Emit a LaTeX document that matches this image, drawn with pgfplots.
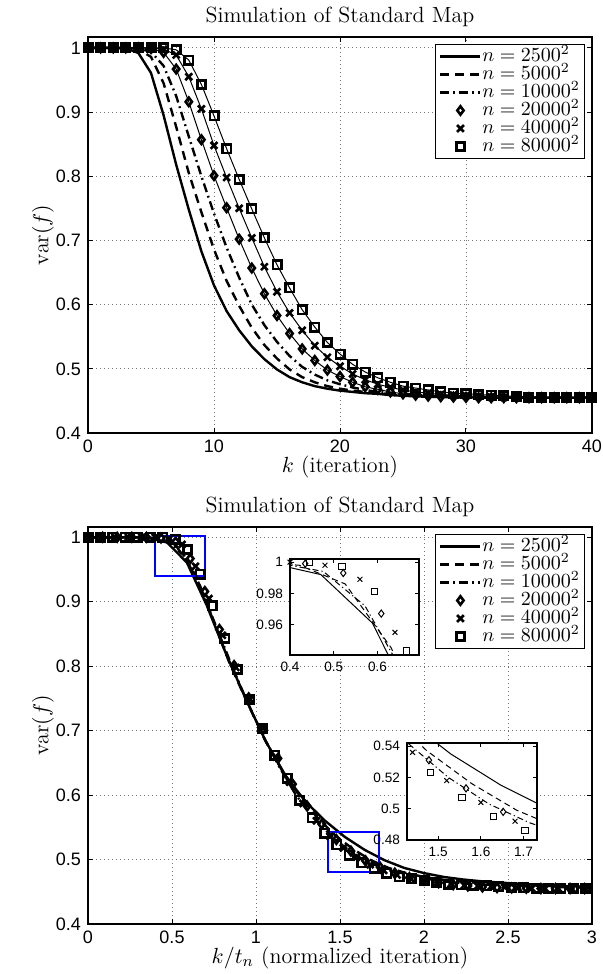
\documentclass[border=0pt]{standalone}
\usepackage{fontspec}
\usepackage{pgfplots}
\usepackage{pgfplotstable}
\pgfplotsset{compat=1.18}
\newfontfamily\arial{Liberation Sans}

% var(f) against iteration k, one column per grid size n
\pgfplotstableread{
k  a      b      c      d      e      f
0  1      1      1      1      1      1
1  1      1      1      1      1      1
2  1      1      1      1      1      1
3  0.9995 1      1      1      1      1
4  0.992  0.998  0.999  1      1      1
5  0.961  0.986  0.994  0.999  1      1
6  0.895  0.945  0.972  0.993  0.998  1
7  0.818  0.877  0.925  0.967  0.989  0.997
8  0.748  0.805  0.862  0.916  0.955  0.981
9  0.683  0.744  0.800  0.857  0.905  0.943
10 0.630  0.686  0.742  0.801  0.848  0.894
11 0.590  0.637  0.689  0.751  0.798  0.843
12 0.560  0.598  0.642  0.702  0.750  0.795
13 0.535  0.564  0.600  0.657  0.704  0.749
14 0.515  0.537  0.568  0.617  0.659  0.704
15 0.499  0.516  0.542  0.583  0.620  0.662
16 0.487  0.499  0.520  0.555  0.587  0.626
17 0.479  0.487  0.503  0.531  0.560  0.592
18 0.473  0.479  0.491  0.513  0.536  0.565
19 0.469  0.473  0.482  0.498  0.518  0.541
20 0.466  0.469  0.476  0.488  0.504  0.523
21 0.464  0.466  0.471  0.479  0.492  0.507
22 0.462  0.464  0.467  0.472  0.483  0.495
23 0.461  0.462  0.464  0.468  0.476  0.486
24 0.459  0.461  0.462  0.464  0.471  0.479
25 0.458  0.460  0.461  0.461  0.467  0.473
26 0.457  0.459  0.460  0.459  0.464  0.470
27 0.4565 0.458  0.459  0.4575 0.462  0.467
28 0.456  0.457  0.458  0.4565 0.460  0.464
29 0.4557 0.4565 0.4575 0.456  0.459  0.462
30 0.4555 0.456  0.457  0.4555 0.458  0.461
31 0.455  0.4555 0.4565 0.455  0.457  0.460
32 0.455  0.455  0.456  0.455  0.456  0.459
33 0.455  0.455  0.4555 0.455  0.4555 0.458
34 0.455  0.455  0.455  0.455  0.455  0.457
35 0.455  0.455  0.455  0.455  0.455  0.456
36 0.455  0.455  0.455  0.455  0.455  0.4555
37 0.455  0.455  0.455  0.455  0.455  0.455
38 0.455  0.455  0.455  0.455  0.455  0.455
39 0.455  0.455  0.455  0.455  0.455  0.455
40 0.455  0.455  0.455  0.455  0.455  0.455
}\varfdata

\pgfplotsset{
  matlab/.style={
    scale only axis,
    axis line style={line width=0.6pt},
    tick align=inside, tick pos=both,
    major tick length=2.5pt,
    major tick style={line width=0.5pt, black},
    tick label style={font=\arial\fontsize{9}{10}\selectfont},
    /pgf/number format/assume math mode=true,
    grid=major,
    grid style={black!55, line width=0.4pt, dash pattern=on 0.5pt off 1.5pt},
    title style={font=\fontsize{11}{13}\selectfont, at={(axis description cs:0.5,1.036)}, anchor=base, yshift=-6pt},
    label style={font=\fontsize{11}{13}\selectfont},
    xlabel style={at={(axis description cs:0.5,-0.1)}, anchor=base},
    ylabel style={at={(axis description cs:-0.0893,0.5)}, anchor=center},
    legend cell align=left,
    legend image code/.code={\draw[mark repeat=2,mark phase=2,##1] plot coordinates {(0pt,0pt) (10pt,0pt) (20pt,0pt)};},
    legend style={at={(axis description cs:1,1)}, anchor=north east, xshift=-3.5pt, yshift=-3.5pt,
      draw=black, line width=0.5pt, fill=white, font=\fontsize{10}{10}\selectfont,
      inner xsep=2pt, inner ysep=1.5pt,
      nodes={inner sep=0.3pt, text height=6.6pt, text depth=1.8pt}},
  },
  inset/.style={
    scale only axis,
    axis background/.style={fill=white},
    axis line style={line width=0.6pt},
    tick align=inside, tick pos=both,
    major tick length=2pt,
    major tick style={line width=0.4pt, black},
    tick label style={font=\arial\fontsize{6.8}{8}\selectfont},
    /pgf/number format/assume math mode=true,
  },
  ln1/.style={black, line width=1.2pt},
  ln2/.style={black, line width=1.2pt, dash pattern=on 4.5pt off 3pt},
  ln3/.style={black, line width=1.2pt, dash pattern=on 4.5pt off 2pt on 0.9pt off 2pt},
  mk/.style={black, only marks, mark options={line width=1.3pt, fill=white, solid}},
  mki/.style={black, only marks, mark options={line width=0.5pt, fill=white, solid}},
}

\begin{document}
\begin{tikzpicture}
\path[use as bounding box] (0pt,0pt) rectangle (301pt,487pt);

% ---------- top panel ----------
\begin{axis}[matlab,
  at={(44pt,270.5pt)}, anchor=south west,
  width=252pt, height=198pt,
  xmin=0, xmax=40, ymin=0.4, ymax=1.017,
  xtick={0,10,20,30,40},
  ytick={0.4,0.5,0.6,0.7,0.8,0.9,1},
  title={Simulation of Standard Map},
  xlabel={$k$ (iteration)},
  ylabel={$\mathrm{var}(f)$},
]
\addplot[ln1] table[x=k,y=a]{\varfdata};
\addlegendentry{$n=2500^2$}
\addplot[ln2] table[x=k,y=b]{\varfdata};
\addlegendentry{$n=5000^2$}
\addplot[ln3] table[x=k,y=c]{\varfdata};
\addlegendentry{$n=10000^2$}
\addplot[black, line width=0.5pt, forget plot] table[x=k,y=d]{\varfdata};
\addplot[black, line width=0.5pt, forget plot] table[x=k,y=e]{\varfdata};
\addplot[black, line width=0.5pt, forget plot] table[x=k,y=f]{\varfdata};
\addplot[mk, mark=diamond, mark size=2.1pt] table[x=k,y=d]{\varfdata};
\addlegendentry{$n=20000^2$}
\addplot[mk, mark=x, mark size=2.4pt] table[x=k,y=e]{\varfdata};
\addlegendentry{$n=40000^2$}
\addplot[mk, mark=square, mark size=2.1pt] table[x=k,y=f]{\varfdata};
\addlegendentry{$n=80000^2$}
\end{axis}

% ---------- bottom panel, k divided by t_n ----------
\begin{axis}[matlab,
  at={(44pt,25pt)}, anchor=south west,
  width=252pt, height=198.5pt,
  xmin=0, xmax=3, ymin=0.4, ymax=1.016,
  xtick={0,0.5,1,1.5,2,2.5,3},
  ytick={0.4,0.5,0.6,0.7,0.8,0.9,1},
  title={Simulation of Standard Map},
  xlabel={$k/t_n$ (normalized iteration)},
  ylabel={$\mathrm{var}(f)$},
]
\addplot[ln1] table[x expr=\thisrow{k}/8.5,y=a]{\varfdata};
\addlegendentry{$n=2500^2$}
\addplot[ln2] table[x expr=\thisrow{k}/9.5,y=b]{\varfdata};
\addlegendentry{$n=5000^2$}
\addplot[ln3] table[x expr=\thisrow{k}/10.5,y=c]{\varfdata};
\addlegendentry{$n=10000^2$}
\addplot[mk, mark=diamond, mark size=2.1pt] table[x expr=\thisrow{k}/11.5,y=d]{\varfdata};
\addlegendentry{$n=20000^2$}
\addplot[mk, mark=x, mark size=2.4pt] table[x expr=\thisrow{k}/12.5,y=e]{\varfdata};
\addlegendentry{$n=40000^2$}
\addplot[mk, mark=square, mark size=2.1pt] table[x expr=\thisrow{k}/13.5,y=f]{\varfdata};
\addlegendentry{$n=80000^2$}
\draw[blue, line width=1pt] (axis cs:0.4,0.9405) rectangle (axis cs:0.695,1.002);
\draw[blue, line width=1pt] (axis cs:1.427,0.48) rectangle (axis cs:1.7315,0.542);
\end{axis}

% ---------- inset near the start of the decay ----------
\begin{axis}[inset,
  at={(145pt,159.5pt)}, anchor=south west,
  width=64.5pt, height=48pt,
  xmin=0.4, xmax=0.695, ymin=0.9405, ymax=1.002,
  xtick={0.4,0.5,0.6}, ytick={0.96,0.98,1},
]
\addplot[black, line width=0.5pt] table[x expr=\thisrow{k}/8.5,y=a]{\varfdata};
\addplot[black, line width=0.5pt, dash pattern=on 3pt off 2pt] table[x expr=\thisrow{k}/9.5,y=b]{\varfdata};
\addplot[black, line width=0.5pt, dash pattern=on 3pt off 1.5pt on 0.6pt off 1.5pt] table[x expr=\thisrow{k}/10.5,y=c]{\varfdata};
\addplot[mki, mark=diamond, mark size=1.8pt] table[x expr=\thisrow{k}/11.5,y=d]{\varfdata};
\addplot[mki, mark=x, mark size=1.7pt] table[x expr=\thisrow{k}/12.5,y=e]{\varfdata};
\addplot[mki, mark=square, mark size=1.6pt] table[x expr=\thisrow{k}/13.5,y=f]{\varfdata};
\end{axis}

% ---------- inset on the tail ----------
\begin{axis}[inset,
  at={(203.5pt,67pt)}, anchor=south west,
  width=65pt, height=48.5pt,
  xmin=1.427, xmax=1.7315, ymin=0.48, ymax=0.542,
  xtick={1.5,1.6,1.7}, ytick={0.48,0.5,0.52,0.54},
]
\addplot[black, line width=0.5pt] table[x expr=\thisrow{k}/8.5,y=a]{\varfdata};
\addplot[black, line width=0.5pt, dash pattern=on 3pt off 2pt] table[x expr=\thisrow{k}/9.5,y=b]{\varfdata};
\addplot[black, line width=0.5pt, dash pattern=on 3pt off 1.5pt on 0.6pt off 1.5pt] table[x expr=\thisrow{k}/10.5,y=c]{\varfdata};
\addplot[mki, mark=diamond, mark size=1.8pt] table[x expr=\thisrow{k}/11.5,y=d]{\varfdata};
\addplot[mki, mark=x, mark size=1.7pt] table[x expr=\thisrow{k}/12.5,y=e]{\varfdata};
\addplot[mki, mark=square, mark size=1.6pt] table[x expr=\thisrow{k}/13.5,y=f]{\varfdata};
\end{axis}
\end{tikzpicture}
\end{document}
